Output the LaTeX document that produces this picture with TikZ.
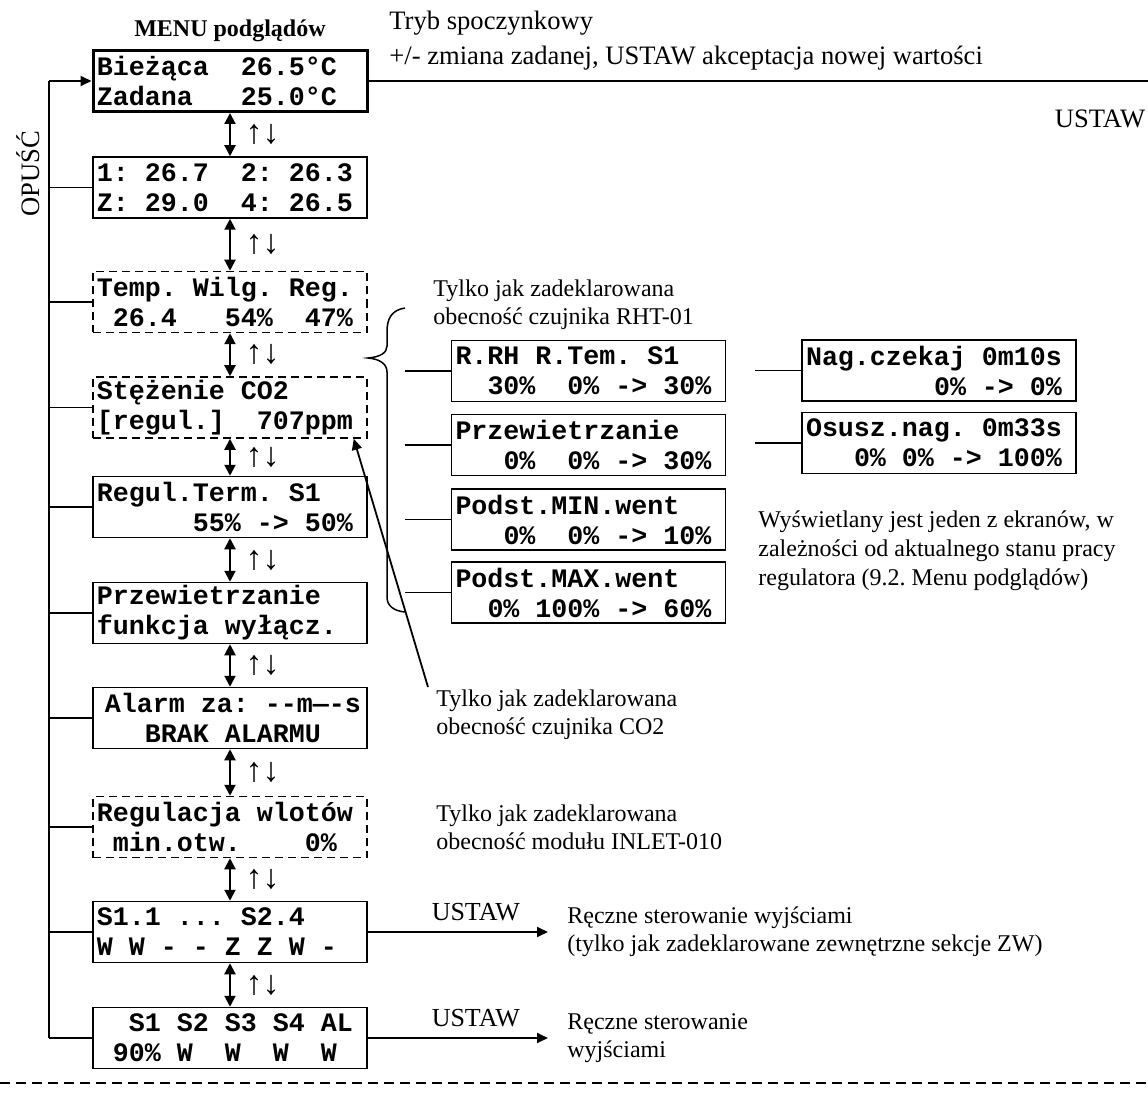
\documentclass[tikz,border=0pt]{standalone}
\usepackage{fontspec}
\setmainfont{Liberation Serif}
\setmonofont{Liberation Mono}
\usepackage{tikz}
\usetikzlibrary{arrows.meta, positioning}
\frenchspacing
\newlength{\lcdw}
\setlength{\lcdw}{8pt}
\newcommand{\lcdfont}{\fontsize{13.33}{15}\ttfamily\bfseries\selectfont}
\newcommand{\notefont}{\fontsize{12}{14.2}\selectfont}
% one LCD character cell of blank space
\newcommand{\lsp}[1][1]{\hspace*{#1\lcdw}}
\tikzset{
  lcd/.style={rectangle, draw, line width=0.75pt,
    minimum width=137pt, minimum height=30.5pt, text width=133pt,
    inner xsep=2pt, inner ysep=0pt, align=left, font=\lcdfont},
  lcdopt/.style={lcd, dash pattern=on 4pt off 2.5pt},
  lcdmain/.style={lcd, line width=1.5pt},
  note/.style={anchor=north west, inner sep=0pt, align=left, font=\notefont},
  arrow/.style={-{Triangle[length=5.5pt,width=5pt]}, line width=0.9pt},
  dblarrow/.style={{Triangle[length=5.5pt,width=5.5pt]}-{Triangle[length=5.5pt,width=5.5pt]}, line width=1pt},
  line/.style={line width=0.75pt}
}

\begin{document}
\begin{tikzpicture}[x=0.5pt, y=-0.5pt]
  \useasboundingbox (0,0) rectangle (1148,1102);
  % menu screens
  \node[lcdmain] (b1) at (230,81) {Bieżąca\lsp[2]26.5°C\\Zadana\lsp[3]25.0°C};
  \node[lcd] (b2) at (230,187.5) {1:\lsp 26.7\lsp[2]2:\lsp 26.3\\Z:\lsp 29.0\lsp[2]4:\lsp 26.5};
  \node[lcdopt] (b3) at (230,302) {Temp.\lsp Wilg.\lsp Reg.\\\lsp 26.4\lsp[3]54\%\lsp[2]47\%};
  \node[lcdopt] (b4) at (230,407.5) {Stężenie\lsp CO2\\{}[regul.]\lsp[2]707ppm};
  \node[lcd] (b5) at (230,507) {Regul.Term.\lsp S1\\\lsp[6]55\%\lsp->\lsp 50\%};
  \node[lcd] (b6) at (230,613) {Przewietrzanie\\funkcja\lsp wyłącz.};
  \node[lcd] (b7) at (230,718) {\lsp[0.5]Alarm\lsp za:\lsp -{}-m—-s\\\lsp[3]BRAK\lsp ALARMU};
  \node[lcdopt] (b8) at (230,827) {Regulacja\lsp wlotów\\\lsp min.otw.\lsp[4]0\%};
  \node[lcd] (b9) at (230,932) {S1.1\lsp ...\lsp S2.4\\W\lsp W\lsp -\lsp -\lsp Z\lsp Z\lsp W\lsp -};
  \node[lcd] (b10) at (230,1038) {\lsp[2]S1\lsp S2\lsp S3\lsp S4\lsp AL\\\lsp 90\%\lsp W\lsp[2]W\lsp[2]W\lsp[2]W};
  \node[font=\bfseries\fontsize{12}{14}\selectfont, above=0pt of b1] (menu) {MENU podglądów};

  % OPUSC rail
  \coordinate (railtop) at (49,81);
  \coordinate (railbot) at (49,1038);
  \draw[line] (railtop) -- (railbot);
  \draw[arrow] (railtop) -- (b1.west);
  \foreach \i in {2,...,10}
    \draw[line] (b\i.west) -- (b\i.west -| railtop);
  \node[rotate=90, font=\fontsize{13.3}{16}\selectfont] (esc) at (28,174) {OPUŚĆ};

  % up / down
  \foreach \a/\b in {b1/b2,b2/b3,b3/b4,b4/b5,b5/b6,b6/b7,b7/b8,b8/b9,b9/b10}
    \draw[dblarrow] (\a.south) -- (\b.north)
      node[midway, right=4pt, font=\fontsize{17}{18}\selectfont] {↑↓};

  % idle mode
  \coordinate (topend) at (1148,81);
  \draw[line] (b1.east) -- (topend);
  \node[note, font=\fontsize{13.3}{17.5}\selectfont] (idle) at (389,11)
    {Tryb spoczynkowy\\+/- zmiana zadanej, USTAW akceptacja nowej wartości};
  \node[font=\fontsize{13.3}{16}\selectfont] (setA) at (1100,119) {USTAW};

  % RHT-01 screens
  \node[note] (rhtnote) at (433,279) {Tylko jak zadeklarowana\\obecność czujnika RHT-01};
  \draw[line] (405,308) .. controls (392,310) and (387,318) .. (387,332)
    -- (387,346) .. controls (387,353) and (380,357) .. (368,358)
    .. controls (380,359) and (387,364) .. (387,372)
    -- (387,597) .. controls (387,606) and (394,611) .. (405,612);
  \node[lcd] (r1) at (588.5,371) {R.RH\lsp R.Tem.\lsp S1\\\lsp[2]30\%\lsp[2]0\%\lsp->\lsp 30\%};
  \node[lcd] (r2) at (588.5,445) {Przewietrzanie\\\lsp[3]0\%\lsp[2]0\%\lsp->\lsp 30\%};
  \node[lcd] (r3) at (588.5,519.5) {Podst.MIN.went\\\lsp[3]0\%\lsp[2]0\%\lsp->\lsp 10\%};
  \node[lcd] (r4) at (588.5,592.5) {Podst.MAX.went\\\lsp[2]0\%\lsp 100\%\lsp->\lsp 60\%};
  \coordinate (bracex) at (405,0);
  \foreach \r in {r1,r2,r3,r4}
    \draw[line] (\r.west) -- (\r.west -| bracex);

  \node[lcd] (f1) at (939,370.5) {Nag.czekaj\lsp 0m10s\\\lsp[8]0\%\lsp->\lsp 0\%};
  \node[lcd] (f2) at (939,443) {Osusz.nag.\lsp 0m33s\\\lsp[3]0\%\lsp 0\%\lsp->\lsp 100\%};
  \coordinate (fx) at (755,0);
  \foreach \f in {f1,f2}
    \draw[line] (\f.west) -- (\f.west -| fx);
  \node[note, font=\fontsize{12}{14.5}\selectfont] (shown) at (758,510)
    {Wyświetlany jest jeden z ekranów, w\\zależności od aktualnego stanu pracy\\regulatora (9.2. Menu podglądów)};

  % CO2, INLET
  \node[note] (co2note) at (436,689) {Tylko jak zadeklarowana\\obecność czujnika CO2};
  \draw[arrow] ([xshift=-4pt,yshift=1pt]co2note.north west) -- ([xshift=-7pt]b4.south east);
  \node[note] (inletnote) at (436,804) {Tylko jak zadeklarowana\\obecność modułu INLET-010};

  % manual outputs
  \node[note, anchor=west, inner xsep=9.5pt] (man1) at (548,932)
    {Ręczne sterowanie wyjściami\\(tylko jak zadeklarowane zewnętrzne sekcje ZW)};
  \draw[arrow] (b9.east) -- (man1.west)
    node[pos=0.6, above=2pt, font=\fontsize{13}{15}\selectfont] {USTAW};
  \node[note, anchor=west, inner xsep=9.5pt] (man2) at (548,1038)
    {Ręczne sterowanie\\wyjściami};
  \draw[arrow] (b10.east) -- (man2.west)
    node[pos=0.6, above=2pt, font=\fontsize{13}{15}\selectfont] {USTAW};

  \draw[dash pattern=on 5pt off 3pt, line width=0.6pt] (0,1083) -- (1148,1083);
\end{tikzpicture}
\end{document}
